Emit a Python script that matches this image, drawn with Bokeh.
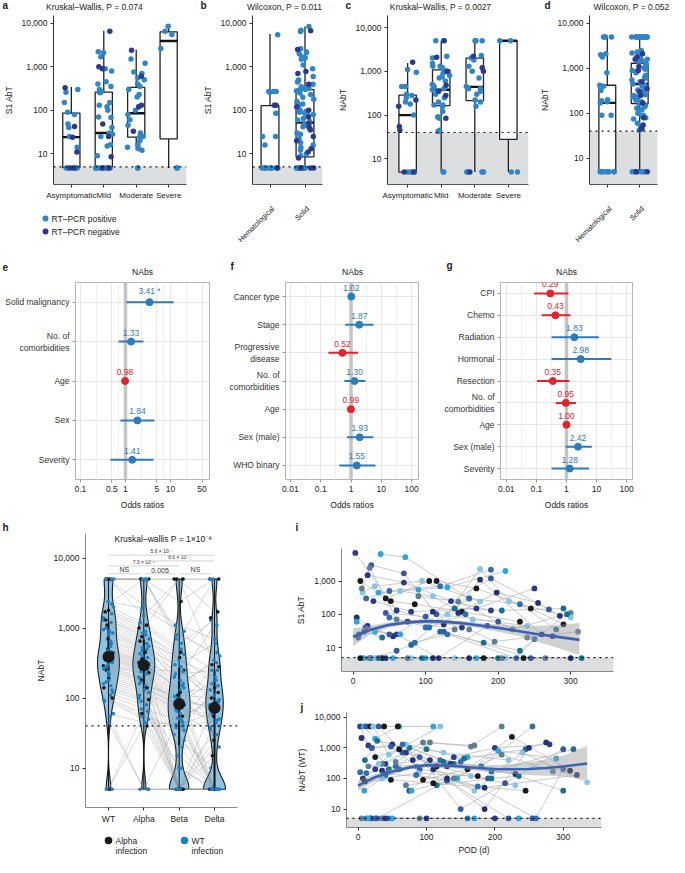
import math
import numpy as np
from bokeh.plotting import figure
from bokeh.models import (ColumnDataSource, FixedTicker, NumeralTickFormatter, Label, Span,
                          BoxAnnotation, Range1d, FactorRange, Title)
from bokeh.layouts import row, column
from bokeh.transform import jitter
from bokeh.core.properties import value
from bokeh.embed import file_html
from bokeh.resources import INLINE

FONT = "Liberation Sans"
FS = "8.5px"
POS_C = "#2E86C8"
NEG_C = "#2B3A8E"
BLUE = "#2A7BBF"
RED = "#E8202A"

# ---------------- data: panel a (S1 AbT by severity) ----------------
a_cats = ["Asymptomatic", "Mild", "Moderate", "Severe"]
a_q1 = [4.8, 5, 24, 22]
a_med = [24, 30, 85, 3900]
a_q3 = [86, 260, 335, 6300]
a_lo = [4.7, 4.7, 12, 4.7]
a_hi = [340, 6700, 2450, 8700]
a_pos = [[300, 260, 150, 90, 80, 48, 40, 25, 14, 4.7, 4.7, 4.7, 4.7, 4.7],
         [2100, 2200, 1700, 900, 800, 450, 400, 350, 300, 270, 260, 250, 150, 130, 120, 100, 70, 68,
          40, 30, 28, 25, 16, 15, 9, 4.7, 4.7, 4.7, 4.7, 4.7, 4.7, 4.7, 4.7, 4.7, 4.7],
         [1500, 1200, 750, 700, 550, 500, 400, 350, 300, 230, 200, 120, 100, 80, 60, 45, 30, 25, 25,
          25, 20, 16, 14, 13, 12, 4.7, 4.7],
         [8500, 6500, 5500, 2600, 4.7, 4.7]]
a_neg = [[330, 42, 24, 11, 4.7, 4.7],
         [6500, 1000, 900, 48, 25, 8.5, 4.7, 4.7],
         [2400, 600, 130, 120, 33],
         []]
a_legend = ["RT–PCR positive", "RT–PCR negative"]

# ---------------- panel b (S1 AbT by cancer type) ----------------
b_cats = ["Hematological", "Solid"]
b_q1 = [4.7, 8.5]
b_med = [4.9, 52]
b_q3 = [128, 300]
b_lo = [4.7, 4.7]
b_hi = [5700, 8500]
b_pos = [[5500, 270, 270, 270, 260, 85, 25, 25, 16, 4.7, 4.7, 4.7, 4.7, 4.7, 4.7, 4.7, 4.7, 4.7],
         [8500, 7000, 6500, 2600, 2200, 2100, 2000, 1700, 1600, 1500, 1100, 900, 600, 500, 480, 450,
          400, 380, 350, 320, 300, 300, 280, 250, 230, 200, 180, 160, 150, 140, 130, 110, 100, 95, 90,
          85, 80, 75, 65, 60, 55, 48, 45, 42, 38, 30, 28, 22, 18, 16, 14, 12, 10, 9,
          4.7, 4.7, 4.7, 4.7, 4.7, 4.7, 4.7, 4.7, 4.7, 4.7, 4.7, 4.7]]
b_neg = [[130, 130, 4.7],
         [6800, 2500, 780, 700, 400, 120, 100, 70, 50, 40, 35, 25, 20, 13, 11, 8, 4.7, 4.7, 4.7]]

# ---------------- panel c (NAbT by severity) ----------------
c_q1 = [5, 165, 215, 28]
c_med = [100, 380, 440, 5000]
c_q3 = [285, 1080, 2000, 5000]
c_lo = [5, 5, 5, 5]
c_hi = [1550, 5000, 5000, 5000]
c_pos = [[1100, 950, 450, 450, 300, 280, 250, 200, 180, 100, 5, 5, 5, 5],
         [5000, 5000, 2200, 2000, 1500, 1300, 1300, 1200, 1000, 900, 800, 750, 700, 600, 500, 450,
          400, 380, 350, 300, 250, 200, 170, 170, 160, 120, 90, 90, 85, 45, 42, 5, 5],
         [5000, 5000, 5000, 5000, 2300, 2000, 1800, 1300, 1000, 700, 450, 400, 400, 350, 300, 220,
          200, 160, 5, 5, 5, 5],
         [5000, 5000, 5, 5]]
c_neg = [[1600, 220, 160, 55, 45, 5, 5],
         [5000, 2100, 1000, 480, 350, 280, 85],
         [2200, 1200, 1000, 5],
         []]

# ---------------- panel d (NAbT by cancer type) ----------------
d_q1 = [5, 165]
d_med = [170, 450]
d_q3 = [420, 1300]
d_lo = [5, 5]
d_hi = [5200, 5000]
d_pos = [[5000, 5000, 5000, 5000, 2100, 2000, 1800, 800, 420, 400, 320, 200, 190, 180, 170, 90, 90,
          5, 5, 5, 5, 5, 5, 5, 5, 5],
         [5000, 5000, 5000, 5000, 5000, 5000, 5000, 5000, 5000, 5000, 5000, 5000, 5000, 5000, 5000,
          5000, 2500, 2300, 2200, 2000, 1800, 1600, 1500, 1400, 1300, 1200, 1100, 1000, 950, 900, 850,
          800, 700, 650, 600, 550, 500, 480, 450, 420, 400, 380, 350, 330, 300, 280, 260, 250, 240,
          230, 220, 200, 180, 170, 160, 150, 140, 130, 120, 110, 100, 90, 85, 80, 75, 60, 50, 45, 42,
          5, 5, 5, 5, 5, 5, 5]]
d_neg = [[],
         [2100, 1800, 1600, 1100, 900, 500, 350, 300, 250, 170, 80, 55, 45, 5, 5]]

row1_titles = ["Kruskal–Wallis, P = 0.074", "Wilcoxon, P = 0.011", "Kruskal–Wallis, P = 0.0027",
               "Wilcoxon, P = 0.052"]

# ---------------- forest plots e, f, g ----------------
e_labels = ["Solid malignancy", "No. of\ncomorbidities", "Age", "Sex", "Severity"]
e_or = [3.41, 1.33, 0.98, 1.84, 1.41]
e_lo = [1.05, 0.70, 0.96, 0.77, 0.46]
e_hi = [11.7, 2.5, 1.00, 4.4, 4.2]
e_txt = ["3.41 *", "1.33", "0.98", "1.84", "1.41"]
e_ticks = [0.1, 0.5, 1, 5, 10, 50]

f_labels = ["Cancer type", "Stage", "Progressive\ndisease", "No. of\ncomorbidities", "Age",
            "Sex (male)", "WHO binary"]
f_or = [1.02, 1.87, 0.52, 1.30, 0.99, 1.93, 1.55]
f_lo = [1.0, 0.64, 0.18, 0.60, 0.97, 0.74, 0.41]
f_hi = [1.04, 5.5, 1.7, 3.0, 1.01, 5.5, 6.4]
f_txt = ["1.02", "1.87", "0.52", "1.30", "0.99", "1.93", "1.55"]

g_labels = ["CPI", "Chemo", "Radiation", "Hormonal", "Resection", "No. of\ncomorbidities", "Age",
            "Sex (male)", "Severity"]
g_or = [0.29, 0.43, 1.83, 2.98, 0.35, 0.95, 1.00, 2.42, 1.28]
g_lo = [0.084, 0.15, 0.32, 0.32, 0.105, 0.44, 0.98, 0.94, 0.32]
g_hi = [1.16, 1.35, 11.9, 31, 1.25, 2.1, 1.02, 7.0, 5.6]
g_txt = ["0.29", "0.43", "1.83", "2.98", "0.35", "0.95", "1.00", "2.42", "1.28"]
fg_ticks = [0.01, 0.1, 1, 10, 100]
forest_title = "NAbs"

# ---------------- panel h (NAbT per variant, per patient) ----------------
h_variants = ["WT", "Alpha", "Beta", "Delta"]
h_wt = [5000, 5000, 5000, 5000, 5000, 5000, 5000, 2400, 2200, 2000, 1800, 1700, 1600, 1400, 1300,
        1300, 1200, 1100, 1000, 950, 900, 850, 800, 700, 650, 600, 550, 500, 480, 460, 440, 420, 400,
        380, 360, 350, 340, 320, 300, 290, 280, 270, 260, 250, 240, 220, 200, 190, 180, 170, 160, 150,
        140, 130, 120, 110, 100, 95, 90, 60, 55, 45, 5, 5, 5, 5]
h_alpha = [5000, 5000, 5000, 2100, 5000, 1500, 5000, 1900, 5000, 1200, 1100, 1000, 900, 850, 800,
           750, 700, 650, 600, 550, 520, 500, 470, 450, 430, 400, 380, 360, 340, 330, 320, 310, 300,
           290, 280, 270, 260, 250, 240, 230, 220, 200, 190, 180, 170, 160, 150, 140, 130, 120, 110,
           100, 95, 90, 80, 70, 60, 55, 50, 45, 5, 5, 5, 40, 5, 65]
h_beta = [5000, 5000, 2400, 1100, 800, 5000, 600, 900, 700, 500, 450, 5000, 350, 300, 420, 250, 200,
          380, 150, 280, 180, 220, 130, 110, 5, 160, 100, 120, 95, 85, 75, 65, 140, 60, 55, 50, 240,
          45, 40, 5, 35, 30, 5, 90, 25, 20, 105, 80, 5, 70, 5, 15, 5, 10, 5, 48, 5, 38, 5, 42, 5, 5,
          5, 5, 52, 10]
h_delta = [5000, 1700, 5000, 700, 450, 5000, 1300, 400, 5000, 250, 1400, 300, 200, 600, 150, 120,
           1100, 90, 350, 80, 60, 250, 5, 100, 40, 320, 70, 140, 5, 180, 55, 30, 45, 5, 85, 160, 95,
           5, 65, 25, 130, 5, 20, 75, 10, 5, 38, 280, 5, 50, 35, 5, 15, 5, 5, 110, 5, 48, 5, 5, 5, 90,
           5, 5, 5, 5]
h_grp = ["A", "A", "A", "W", "W", "W", "W", "W", "W", "W", "A", "A", "W", "W", "W", "A", "W", "A",
         "W", "W", "W", "W", "W", "A", "W", "W", "W", "A", "W", "W", "A", "W", "W", "W", "A", "W",
         "W", "W", "W", "A", "W", "W", "W", "A", "W", "W", "W", "A", "W", "W", "W", "W", "A", "W",
         "W", "W", "A", "W", "W", "W", "W", "W", "W", "A", "W", "W"]
h_pairs = [(1, 2), (2, 3), (3, 4), (1, 3), (2, 4), (1, 4)]
h_pair_y = [5950, 5950, 5950, 7700, 9100, 11000]
h_pair_txt = ["NS", "0.005", "NS", "7.3 × 10⁻⁵", "8.6 × 10⁻⁷", "5.6 × 10⁻⁷"]
h_title = "Kruskal–wallis P = 1×10⁻⁸"
h_legend = [("Alpha", "infection"), ("WT", "infection")]

# ---------------- panel i (S1 AbT over POD) ----------------
i_pod = [[3, 60, 150], [38, 72, 160], [25, 70, 115, 200], [10, 45, 105], [13, 30, 95, 175],
         [5, 20, 55, 110], [8, 15, 40], [12, 23, 60, 140], [18, 50, 120, 190], [28, 80, 170, 250],
         [35, 90, 130, 210], [45, 100, 190, 270], [52, 85, 150, 230], [65, 110, 165, 240],
         [75, 125, 175, 260], [80, 140, 205, 290], [90, 145, 220, 300], [100, 160, 230, 280],
         [20, 70, 135, 190], [15, 55, 100, 170], [25, 60, 125, 245], [10, 40, 180, 235],
         [30, 80, 140, 210], [45, 110, 160, 300], [35, 95, 200, 315], [22, 75, 205, 265],
         [85, 130, 225, 250], [60, 118, 185, 275], [5, 30, 65], [7, 17, 50], [115, 170, 245, 290],
         [130, 175, 215, 300], [145, 198, 255, 285], [120, 180, 230, 295], [160, 195, 240, 310],
         [50, 105, 155]]
i_val = [[7000, 130, 40], [6500, 5200, 300], [3000, 1700, 100, 60], [1000, 300, 1000],
         [450, 700, 1000, 240], [80, 45, 22, 120], [25, 30, 20], [600, 2500, 70, 35],
         [300, 500, 700, 2200], [250, 120, 150, 600], [450, 550, 650, 2000], [110, 85, 1200, 140],
         [250, 200, 120, 60], [500, 350, 70, 45], [60, 50, 1100, 25], [12, 150, 130, 150],
         [350, 240, 35, 110], [40, 300, 200, 35], [1500, 900, 250, 130], [4.8, 4.8, 4.8, 4.8],
         [4.8, 8, 30, 4.8], [4.8, 4.8, 4.8, 4.8], [4.8, 4.8, 4.8, 4.8], [4.8, 4.8, 4.8, 4.8],
         [4.8, 4.8, 4.8, 4.8], [4.8, 4.8, 4.8, 4.8], [14, 25, 4.8, 18], [25, 4.8, 45, 22],
         [60, 30, 25], [20, 40, 25], [1000, 600, 150, 50], [100, 2300, 250, 80],
         [110, 450, 220, 90], [30, 14, 8, 100], [35, 15, 20, 30], [80, 40, 100]]
i_fit_pod = [0, 25, 50, 75, 100, 125, 150, 175, 200, 225, 250, 275, 312]
i_fit = [21, 35, 48, 57, 62, 60, 54, 46, 39, 32, 26, 22, 17]
i_fit_lo = [11, 26, 40, 50, 54, 52, 46, 38, 30, 23, 16, 11, 6]
i_fit_hi = [37, 46, 58, 66, 70, 68, 62, 55, 50, 46, 44, 47, 55]

# ---------------- panel j (NAbT (WT) over POD) ----------------
j_pod = [[3, 15, 40], [8, 25, 60, 110], [12, 30, 65], [18, 38, 58], [22, 45, 120],
         [5, 20, 50, 105], [10, 28, 75, 140], [15, 35, 95, 170], [3, 12, 55, 150], [7, 25, 70, 130],
         [9, 40, 85, 160], [20, 48, 90, 190], [25, 60, 115, 175], [30, 70, 125, 220],
         [35, 80, 135, 230], [45, 100, 155, 245], [55, 105, 165, 210], [65, 120, 180, 255],
         [75, 140, 200, 280], [78, 145, 205, 290], [90, 150, 215, 300], [95, 160, 225, 310],
         [100, 170, 240, 335], [110, 185, 250, 275], [115, 195, 235, 300], [5, 20, 35, 90],
         [12, 25, 45, 160], [18, 40, 100, 200], [15, 50, 170, 235], [28, 130, 220, 255],
         [10, 48, 110, 245], [35, 88, 165, 230], [40, 130, 185, 320], [60, 125, 195, 315],
         [70, 140, 210, 285], [85, 175, 260, 300]]
j_val = [[5000, 1200, 300], [5000, 2000, 5000, 5000], [5000, 5000, 700], [5000, 5000, 5000],
         [5000, 600, 5000], [2100, 1000, 1300, 400], [400, 1700, 1000, 300], [250, 300, 1500, 1200],
         [160, 150, 250, 350], [100, 200, 700, 250], [40, 120, 250, 500], [1000, 1100, 200, 100],
         [500, 900, 250, 120], [300, 1300, 700, 400], [180, 400, 300, 140], [200, 900, 450, 900],
         [350, 1500, 1100, 5000], [1300, 400, 250, 5000], [40, 500, 1000, 1300], [40, 100, 800, 450],
         [500, 10, 70, 900], [90, 200, 2300, 180], [300, 40, 700, 75], [200, 10, 1000, 1500],
         [60, 100, 120, 40], [5, 5, 5, 5], [5, 5, 5, 5], [5, 5, 5, 5], [5, 5, 5, 5], [5, 85, 5, 5],
         [80, 90, 70, 40], [100, 150, 120, 60], [140, 100, 50, 130], [200, 350, 170, 900],
         [60, 100, 600, 170], [130, 55, 5, 200]]
j_fit_pod = [0, 25, 50, 75, 100, 125, 150, 175, 200, 225, 250, 275, 300, 335]
j_fit = [58, 110, 170, 230, 270, 265, 245, 220, 205, 200, 205, 220, 245, 310]
j_fit_lo = [40, 85, 140, 195, 230, 225, 205, 175, 155, 140, 130, 122, 115, 90]
j_fit_hi = [88, 140, 205, 270, 310, 310, 295, 275, 275, 295, 340, 420, 560, 1150]

PAL = ["#2B3A8F", "#29A8E0", "#3559A8", "#1B1B1B", "#86C5E8", "#23307A", "#17718F", "#5E7E93",
       "#2F6DB5"]


# ---------------- helpers ----------------
def mk(dims, xr, yr, xlog=False, ylog=False):
    w, h, l, r, t, b = dims
    p = figure(width=w, height=h, x_range=xr, y_range=yr,
               x_axis_type="log" if xlog else "auto",
               y_axis_type="log" if ylog else "auto",
               output_backend="svg", toolbar_location=None,
               min_border_left=l, min_border_right=r, min_border_top=t, min_border_bottom=b)
    p.outline_line_color = None
    p.background_fill_color = "white"
    p.border_fill_color = "white"
    p.xgrid.visible = False
    p.ygrid.visible = False
    for ax in p.axis:
        ax.major_label_text_font = FONT
        ax.major_label_text_font_size = FS
        ax.major_label_text_color = "#222222"
        ax.axis_label_text_font = FONT
        ax.axis_label_text_font_size = FS
        ax.axis_label_text_font_style = "normal"
        ax.axis_label_text_color = "#222222"
        ax.axis_line_color = "#333333"
        ax.major_tick_line_color = "#333333"
        ax.minor_tick_line_color = None
        ax.major_tick_out = 3
        ax.major_tick_in = 0
        ax.major_label_standoff = 3
        ax.axis_label_standoff = 5
    return p


class Band:
    # plain strip without axes for panel letters, titles, legends; coordinates in px, y downward
    def __init__(self, w, h, l=0, r=0):
        self.h = h
        self.p = figure(width=w, height=h, x_range=Range1d(l, w - r), y_range=Range1d(0, h),
                        x_axis_location=None, y_axis_location=None, output_backend="svg",
                        toolbar_location=None, min_border=0, min_border_left=l,
                        min_border_right=r)
        self.p.outline_line_color = None
        self.p.xgrid.visible = False
        self.p.ygrid.visible = False
        self.p.background_fill_color = "white"
        self.p.border_fill_color = "white"

    def write(self, xs, ys, texts, size=FS, bold=False, align="left", angle=0.0,
              color="#222222"):
        self.p.text(x=xs, y=[self.h - y for y in ys], text=texts, text_font=value(FONT),
                    text_font_size=size, text_font_style="bold" if bold else "normal",
                    text_align=align, text_baseline="middle", text_color=color, angle=angle)

    def dots(self, xs, ys, colors, size):
        self.p.scatter(x=xs, y=[self.h - y for y in ys], size=size, fill_color=colors,
                       line_color=None)


def box_panel(dims, cats, pad, yr, q1, med, q3, lo, hi, bw, pos, neg, lod, jw, ylabel,
              hide_x=False):
    p = mk(dims, FactorRange(factors=cats, range_padding=pad, range_padding_units="absolute"), yr,
           ylog=True)
    p.add_layout(BoxAnnotation(top=lod, fill_color="#DDDEE0", fill_alpha=1, line_color=None,
                               level="underlay"))
    p.add_layout(Span(location=lod, dimension="width", line_color="#111111",
                      line_dash="dotted", line_width=1.2))
    src = ColumnDataSource(dict(x=cats, q1=q1, med=med, q3=q3, lo=lo, hi=hi))
    p.segment(x0="x", y0="q3", x1="x", y1="hi", source=src, line_color="#222222", line_width=1.3)
    p.segment(x0="x", y0="lo", x1="x", y1="q1", source=src, line_color="#222222", line_width=1.3)
    p.vbar(x="x", width=bw, top="q3", bottom="q1", source=src, fill_color="white",
           line_color="#222222", line_width=1.3)
    p.rect(x="x", y="med", width=bw, height=2.4, height_units="screen", source=src,
           fill_color="#111111", line_color=None)
    px = [cats[i] for i, l in enumerate(pos) for _ in l]
    py = [v for l in pos for v in l]
    nx = [cats[i] for i, l in enumerate(neg) for _ in l]
    ny = [v for l in neg for v in l]
    p.scatter(x=jitter("x", width=jw, range=p.x_range, distribution="uniform"), y="y",
              source=ColumnDataSource(dict(x=px, y=py)), size=5.5, fill_color=POS_C,
              line_color=None)
    p.scatter(x=jitter("x", width=jw, range=p.x_range, distribution="uniform"), y="y",
              source=ColumnDataSource(dict(x=nx, y=ny)), size=5.5, fill_color=NEG_C,
              line_color=None)
    p.yaxis.ticker = FixedTicker(ticks=[10, 100, 1000, 10000])
    p.yaxis.formatter = NumeralTickFormatter(format="0,0")
    p.yaxis.axis_label = ylabel
    p.xaxis.axis_line_color = "#555555"
    if hide_x:
        # category names for these panels are drawn rotated in the strip below
        p.xaxis.major_label_text_color = None
        p.xaxis.major_label_standoff = 0
    else:
        p.xaxis.major_label_text_font_size = "8px"
    return p


def forest(dims, labels, ors, lo, hi, txt, xr, ticks):
    p = mk(dims, xr, FactorRange(factors=labels[::-1]), xlog=True)
    p.outline_line_color = "#B5B5B5"
    p.outline_line_width = 1
    minor = [math.sqrt(ticks[k] * ticks[k + 1]) for k in range(len(ticks) - 1)]
    p.xgrid.visible = True
    p.xgrid.ticker = FixedTicker(ticks=ticks, minor_ticks=minor)
    p.xgrid.grid_line_color = "#E6E6E6"
    p.xgrid.minor_grid_line_color = "#F0F0F0"
    p.ygrid.visible = True
    p.ygrid.grid_line_color = "#E6E6E6"
    p.add_layout(Span(location=1, dimension="height", line_color="#C4C4C4", line_width=3.5,
                      level="underlay"))
    cols = [BLUE if o > 1 else RED for o in ors]
    src = ColumnDataSource(dict(lab=labels, o=ors, lo=lo, hi=hi, t=txt, c=cols))
    p.segment(x0="lo", y0="lab", x1="hi", y1="lab", source=src, line_color="c", line_width=2)
    p.scatter(x="o", y="lab", source=src, size=7, fill_color="c", line_color="c")
    p.text(x="o", y="lab", text="t", source=src, text_color="c", text_font=value(FONT),
           text_font_size=FS, text_align="center", text_baseline="bottom", y_offset=-6)
    p.xaxis.ticker = FixedTicker(ticks=ticks)
    p.xaxis.formatter = NumeralTickFormatter(format="0.[00]")
    p.xaxis.axis_label = "Odds ratios"
    p.xaxis.axis_line_color = None
    p.yaxis.axis_line_color = None
    p.xaxis.major_tick_line_color = "#999999"
    p.yaxis.major_tick_line_color = "#999999"
    p.yaxis.major_label_text_color = "#333333"
    return p


# ---------------- band 1: letters + titles of row 1 ----------------
b1 = Band(669, 12)
b1.write([2, 200, 345, 544], [5, 5, 5, 5], ["a", "b", "c", "d"], size="10px", bold=True)
b1.write([94, 284, 440, 631], [6, 6, 6, 6], row1_titles, align="center")

# ---------------- row 1 ----------------
A = (188, 190, 41, 2, 1, 18)
pa = box_panel(A, a_cats, 0.05, Range1d(1.96, 15000), a_q1, a_med, a_q3, a_lo, a_hi,
               0.53, a_pos, a_neg, 5, 0.55, "S1 AbT")
B = (146, 190, 64, 12, 0, 17)
pb = box_panel(B, b_cats, 0.0, Range1d(1.96, 15200), b_q1, b_med, b_q3, b_lo, b_hi, 0.51,
               b_pos, b_neg, 5, 0.5, "S1 AbT", hide_x=True)
C = (198, 190, 49, 4, 3, 18)
pc = box_panel(C, a_cats, 0.1, Range1d(2.6, 18800), c_q1, c_med, c_q3, c_lo, c_hi, 0.52,
               c_pos, c_neg, 40, 0.55, "NAbT")
D = (137, 190, 57, 12, 0, 17)
pd_ = box_panel(D, b_cats, 0.05, Range1d(2.6, 15000), d_q1, d_med, d_q3, d_lo, d_hi, 0.52,
                d_pos, d_neg, 40, 0.5, "NAbT", hide_x=True)

# ---------------- band 1b: legend of a, rotated category labels of b and d ----------------
b1b = Band(669, 44)
b1b.dots([45, 45], [16, 29], [POS_C, NEG_C], 6)
b1b.write([51, 51], [16, 29], a_legend)
b_centers = [188 + 64 + (k + 0.5) * 70 / 2 for k in range(2)]
d_centers = [532 + 57 + (k + 0.55) * 68 / 2.1 for k in range(2)]
b1b.write([x + 3 for x in b_centers + d_centers], [5, 5, 5, 5], b_cats + b_cats, align="right",
          angle=math.pi / 4, size="7.5px")

# ---------------- band 2: letters + titles of row 2 ----------------
b2 = Band(669, 30)
b2.write([2, 230, 446], [20, 20, 19], ["e", "f", "g"], size="10px", bold=True)
b2.write([142, 352, 566], [25, 25, 25], [forest_title] * 3, align="center")

# ---------------- row 2 ----------------
E = (216, 239, 75, 7, 3, 36)
pe = forest(E, e_labels, e_or, e_lo, e_hi, e_txt, Range1d(0.078, 73), e_ticks)
F = (220, 239, 69, 18, 4, 34)
pf = forest(F, f_labels, f_or, f_lo, f_hi, f_txt, Range1d(0.0069, 168), fg_ticks)
G = (233, 239, 64, 37, 6, 33)
pg = forest(G, g_labels, g_or, g_lo, g_hi, g_txt, Range1d(0.0064, 157), fg_ticks)

# ---------------- band 3: letters h, i ----------------
b3 = Band(669, 18)
b3.write([2, 295], [12, 12], ["h", "i"], size="10px", bold=True)

# ---------------- row 3: panel h ----------------
H = (293, 297, 85, 56, 0, 23)
ph = mk(H, FactorRange(factors=h_variants, range_padding=0.15, range_padding_units="absolute"),
        Range1d(2.74, 22400), ylog=True)
ph.add_layout(Span(location=40, dimension="width", line_color="#111111", line_dash="dotted",
                   line_width=1.2))
h_all = [h_wt, h_alpha, h_beta, h_delta]
for k, vals in enumerate(h_all):
    lv = np.log10(np.array(vals, dtype=float))
    grid = np.linspace(lv.min(), lv.max(), 160)
    dens = np.exp(-0.5 * ((grid[:, None] - lv[None, :]) / 0.17) ** 2).sum(axis=1)
    dens = dens / dens.max()
    cx = k + 0.5
    xs = np.concatenate([cx + 0.31 * dens, (cx - 0.31 * dens)[::-1]])
    ys = np.concatenate([10 ** grid, (10 ** grid)[::-1]])
    ph.patch(xs, ys, fill_color="#8EC4E2", line_color="#1A1A1A", line_width=1.1)
n_pat = len(h_wt)
ph.multi_line(xs=[list(h_variants) for _ in range(n_pat)],
              ys=[[h_wt[i], h_alpha[i], h_beta[i], h_delta[i]] for i in range(n_pat)],
              line_color="#8A8A8A", line_alpha=0.55, line_width=0.6)
for k, vals in enumerate(h_all):
    q = np.percentile(vals, [25, 75])
    ph.segment(x0=[h_variants[k]], y0=[min(vals)], x1=[h_variants[k]], y1=[max(vals)],
               line_color="#111111", line_width=1)
    ph.segment(x0=[h_variants[k]], y0=[q[0]], x1=[h_variants[k]], y1=[q[1]],
               line_color="#111111", line_width=2)
hx, hy, hc = [], [], []
for k, vals in enumerate(h_all):
    for i, v in enumerate(vals):
        hx.append(h_variants[k])
        hy.append(v)
        hc.append("#1A1A1A" if h_grp[i] == "A" else "#1C80C4")
ph.scatter(x=jitter("x", width=0.3, range=ph.x_range, distribution="uniform"), y="y",
           source=ColumnDataSource(dict(x=hx, y=hy, c=hc)), size=3.6, fill_color="c",
           line_color=None)
ph.scatter(x=h_variants, y=[float(np.median(v)) for v in h_all], size=12,
           fill_color="#1A1A1A", line_color=None)
for (a_, b_), yv, tx in zip(h_pairs, h_pair_y, h_pair_txt):
    x0 = a_ - 0.5 + (0.02 if b_ - a_ == 1 and a_ > 1 else 0.0)
    x1 = b_ - 0.5 - (0.1 if b_ - a_ == 1 else 0.0)
    ph.segment(x0=[x0], y0=[yv], x1=[x1], y1=[yv], line_color="#C8C8C8", line_width=0.8)
    ph.text(x=[(x0 + x1) / 2], y=[yv], text=[tx], text_font=value(FONT),
            text_font_size="7px" if b_ - a_ == 1 else "5px", text_color="#333333",
            text_align="center", text_baseline="bottom", y_offset=-1)
ph.add_layout(Label(x=2.05, y=18500, text=h_title, text_font=FONT,
                    text_font_size=FS, text_align="center", text_baseline="middle",
                    text_color="#222222"))
ph.xaxis.axis_line_color = "#888888"
ph.yaxis.ticker = FixedTicker(ticks=[10, 100, 1000, 10000])
ph.yaxis.formatter = NumeralTickFormatter(format="0,0")
ph.yaxis.axis_label = "NAbT"
ph.yaxis.axis_line_color = "#888888"

lh = Band(293, 27, l=85, r=56)
lh.dots([108, 184], [10, 10], ["#1A1A1A", "#1C80C4"], 7.5)
lh.write([115, 191], [10, 10], [h_legend[0][0], h_legend[1][0]])
lh.write([115, 191], [20, 20], [h_legend[0][1], h_legend[1][1]])


# ---------------- row 3: panels i and j ----------------
def pod_panel(dims, xr, yr, pods, vals, fpod, fit, flo, fhi, ylabel, xlabel, yticks):
    p = mk(dims, xr, yr, ylog=True)
    p.add_layout(BoxAnnotation(top=5, fill_color="#DDDEE0", fill_alpha=1, line_color=None,
                               level="underlay"))
    p.add_layout(Span(location=5, dimension="width", line_color="#111111", line_dash="dotted",
                      line_width=1.2))
    lx, ly = [], []
    px, py, pc = [], [], []
    for k, (ps, vs) in enumerate(zip(pods, vals)):
        order = np.argsort(ps)
        lx.append([ps[o] for o in order])
        ly.append([vs[o] for o in order])
        for a_, b_ in zip(ps, vs):
            px.append(a_)
            py.append(b_)
            pc.append(PAL[k % len(PAL)])
    p.multi_line(xs=lx, ys=ly, line_color="#B5B5B5", line_width=0.7)
    p.scatter(x="x", y="y", source=ColumnDataSource(dict(x=px, y=py, c=pc)), size=5.8,
              fill_color="c", line_color=None)
    p.varea(x=fpod, y1=flo, y2=fhi, fill_color="#9A9A9A", fill_alpha=0.45)
    p.line(x=fpod, y=fit, line_color="#3A62B5", line_width=2.6)
    p.xaxis.ticker = FixedTicker(ticks=[0, 100, 200, 300])
    p.xaxis.axis_line_color = "#888888"
    p.yaxis.axis_line_color = "#888888"
    p.yaxis.ticker = FixedTicker(ticks=yticks)
    p.yaxis.formatter = NumeralTickFormatter(format="0,0")
    p.yaxis.axis_label = ylabel
    if xlabel:
        p.xaxis.axis_label = xlabel
    return p


I_ = (376, 166, 48, 56, 15, 28)
pi_ = pod_panel(I_, Range1d(-16, 359), Range1d(1.9, 9500), i_pod, i_val, i_fit_pod,
                i_fit, i_fit_lo, i_fit_hi, "S1 AbT", None, [10, 100, 1000])
J_ = (376, 158, 48, 68, 12, 28)
pj = pod_panel(J_, Range1d(-17, 356), Range1d(2.5, 14300), j_pod, j_val, j_fit_pod,
               j_fit, j_fit_lo, j_fit_hi, "NAbT (WT)", "POD (d)", [10, 100, 1000, 10000])
pj.xaxis.axis_label_standoff = 2
pj.add_layout(Title(text="j", align="left", offset=-46, text_font=FONT, text_font_size="10px",
                    text_font_style="bold", text_color="#222222", standoff=0), "above")

layout = column(
    b1.p,
    row(pa, pb, pc, pd_),
    b1b.p,
    b2.p,
    row(pe, pf, pg),
    b3.p,
    row(column(ph, lh.p), column(row(pi_), row(pj))),
)
open("out.html", "w").write(file_html(layout, INLINE))
